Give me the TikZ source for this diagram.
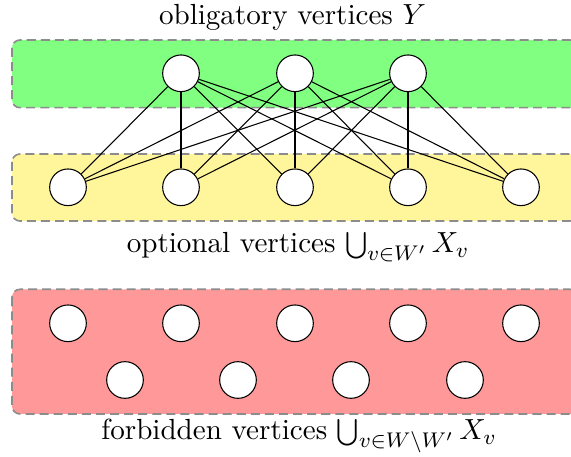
\documentclass[tikz,border=0pt,11pt]{standalone}
\begin{document}
\begin{tikzpicture}[x=0.37636pt,y=-0.37636pt,
  vtx/.style={circle,draw=black,fill=white,minimum size=13.8pt,inner sep=0pt,line width=0.4pt},
  band/.style={draw=black!45,dash pattern=on 3.4pt off 1.9pt,line width=0.6pt,rounded corners=3pt},
  lbl/.style={anchor=base,inner sep=0pt}]
\clip (0,0) rectangle (571,457);
% bands
\path[band,fill={rgb,255:red,128;green,255;blue,128}] (12,40) rectangle (578,107.7);
\path[band,fill={rgb,255:red,255;green,245;blue,155}] (12,154) rectangle (578,221);
\path[band,fill={rgb,255:red,255;green,153;blue,153}] (12,289.3) rectangle (578,414);
% obligatory
\foreach \i/\x in {1/181,2/295,3/408} \node[vtx] (y\i) at (\x,73.3) {};
% optional
\foreach \i/\x in {1/68,2/181,3/295,4/408,5/521} \node[vtx] (o\i) at (\x,187.3) {};
% forbidden
\foreach \i/\x in {1/68,2/181,3/295,4/408,5/521} \node[vtx] (f\i) at (\x,323.3) {};
\foreach \i/\x in {1/125,2/238,3/351,4/465} \node[vtx] (g\i) at (\x,380) {};
% edges
\foreach \a in {1,2,3} \foreach \b in {1,...,5} \draw[line width=0.4pt] (y\a) -- (o\b);
% labels
\node[lbl] (tY) at (292.5,25) {obligatory vertices $Y$};
\node[lbl] (tO) at (298,253) {optional vertices $\bigcup_{v\in W'} X_v$};
\node[lbl] (tF) at (299,440) {forbidden vertices $\bigcup_{v\in W\setminus W'} X_v$};
\end{tikzpicture}
\end{document}
